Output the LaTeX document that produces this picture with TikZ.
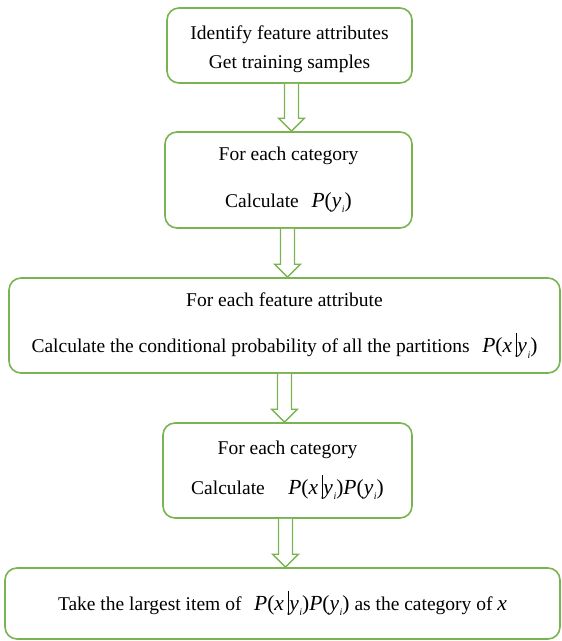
\documentclass[tikz,border=0pt]{standalone}
\usepackage{fontspec}
\setmainfont{Liberation Serif}
\usetikzlibrary{calc}
\definecolor{boxgreen}{RGB}{122,180,82}
\newcommand{\mv}[1]{\textit{#1}}
\newcommand{\fm}[1]{{\fontsize{21.5}{23}\selectfont #1}}
\newcommand{\yi}{\mv{y}\kern0.5pt\raisebox{-0.25em}{\fontsize{10}{10}\selectfont\mv{i}}}
\newcommand{\vbar}{\,\raisebox{-0.2em}{\rule{0.8pt}{1.1em}}\kern1pt}
\newcommand{\gap}{\hspace{0.65em}}
\tikzset{
  box/.style={draw=boxgreen, line width=1.6pt, rounded corners=12pt, fill=white,
    align=center, font=\fontsize{19.5}{23}\selectfont, inner sep=0pt},
  barrow/.style={draw=boxgreen, line width=1.4pt, fill=white, line join=miter,
    to path={let \p1=(\tikztostart), \p2=(\tikztotarget) in
      (\x1-7pt,\y1) -- (\x1-7pt,\y2+13pt) -- (\x1-13pt,\y2+13pt) -- (\x1,\y2)
      -- (\x1+13pt,\y2+13pt) -- (\x1+7pt,\y2+13pt) -- (\x1+7pt,\y1)}}
}
\begin{document}
\begin{tikzpicture}[x=1pt,y=-1pt]
\useasboundingbox (0,0) rectangle (562,641);
\node[box, minimum width=245pt, minimum height=75pt] (b1) at (289.5,45.5)
  {\raisebox{-4pt}[\height][\depth]{\begin{tabular}{@{}c@{}}Identify feature attributes\\[6pt]Get training samples\end{tabular}}};
\node[box, minimum width=247pt, minimum height=96pt] (b2) at (288.5,180)
  {For each category\\[24pt]Calculate\gap\fm{\mv{P}(\yi)}};
\node[box, minimum width=551pt, minimum height=95pt] (b3) at (284.5,325.5)
  {For each feature attribute\\[23pt]Calculate the conditional probability of all the partitions\gap\fm{\mv{P}(\mv{x}\vbar\yi)}};
\node[box, minimum width=249pt, minimum height=95pt] (b4) at (287.5,470.5)
  {For each category\\[15pt]Calculate\hspace{1.2em}\fm{\mv{P}(\mv{x}\vbar\yi)\mv{P}(\yi)}};
\node[box, minimum width=555pt, minimum height=71pt] (b5) at (282.5,603.5)
  {Take the largest item of\gap\fm{\mv{P}(\mv{x}\vbar\yi)\mv{P}(\yi)} as the category of \fm{\mv{x}}};
\draw[barrow] ([xshift=2pt]b1.south) to ([xshift=2pt]b1.south |- b2.north);
\draw[barrow] ([xshift=-1pt]b2.south) to ([xshift=-1pt]b2.south |- b3.north);
\draw[barrow] (b3.south) to (b3.south |- b4.north);
\draw[barrow] ([xshift=-2pt]b4.south) to ([xshift=-2pt]b4.south |- b5.north);
\end{tikzpicture}
\end{document}
